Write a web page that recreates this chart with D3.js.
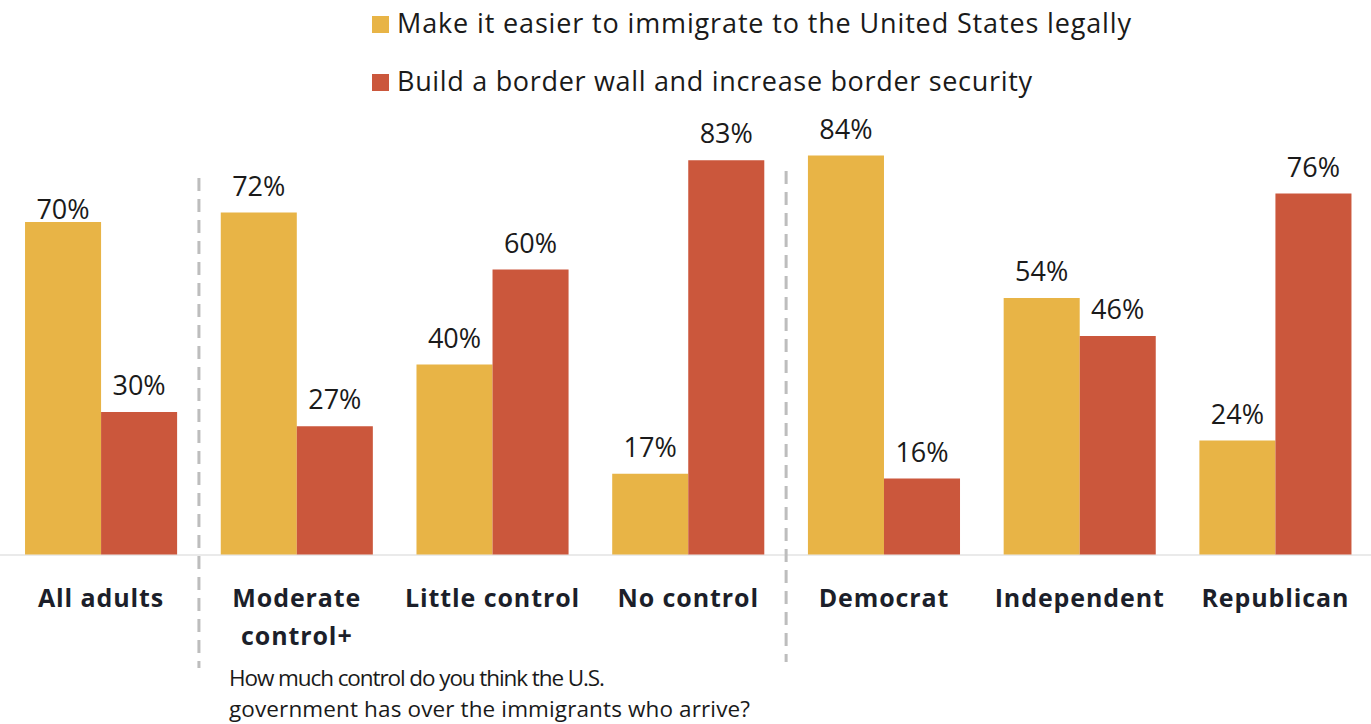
<!DOCTYPE html>
<html><head><meta charset="utf-8">
<script src="https://cdn.jsdelivr.net/npm/d3@7"></script>
<style>body{margin:0;background:#fff}svg{display:block}</style>
</head><body>
<script>
const groups = ["All adults","Moderate control+","Little control","No control","Democrat","Independent","Republican"];
const groupLines = [["All adults"],["Moderate","control+"],["Little control"],["No control"],["Democrat"],["Independent"],["Republican"]];
const seriesNames = ["Make it easier to immigrate to the United States legally","Build a border wall and increase border security"];
const easier = [70,72,40,17,84,54,24];
const wall = [30,27,60,83,16,46,76];
const colors = ["#E8B446","#CB573C"];
const subtitle = ["How much control do you think the U.S.","government has over the immigrants who arrive?"];

const W=1371,H=724;
const svg=d3.select("body").append("svg").attr("width",W).attr("height",H);
const font="'Open Sans', Lato, sans-serif";

const x=d3.scaleBand().domain(groups).range([3.5,1373]).paddingInner(0.223).paddingOuter(0.11);
const xs=d3.scaleBand().domain([0,1]).range([0,x.bandwidth()]);
const y=d3.scaleLinear().domain([0,100]).range([554.5,79.5]);

svg.append("line").attr("x1",0).attr("x2",W).attr("y1",y(0)+0.5).attr("y2",y(0)+0.5).attr("stroke","#e3e3e3").attr("stroke-width",1.5);

const data=groups.map((g,i)=>({g,i,vals:[easier[i],wall[i]]}));
const gg=svg.selectAll("g.grp").data(data).join("g").attr("transform",d=>`translate(${x(d.g)},0)`);
gg.selectAll("rect").data(d=>d.vals.map((v,k)=>({v,k}))).join("rect")
  .attr("x",d=>xs(d.k)).attr("width",xs.bandwidth()).attr("y",d=>y(d.v)).attr("height",d=>y(0)-y(d.v)).attr("fill",d=>colors[d.k]);
gg.selectAll("text.val").data(d=>d.vals.map((v,k)=>({v,k,i:d.i}))).join("text").attr("class","val")
  .attr("x",d=>xs(d.k)+xs.bandwidth()/2).attr("y",d=>y(d.v)-((d.i===0&&d.k===0)?3:17)).attr("text-anchor","middle")
  .attr("font-family",font).attr("font-size",27).attr("fill","#1a1a1a").text(d=>d.v+"%");
gg.each(function(d){
  const t=d3.select(this).append("text").attr("text-anchor","middle").attr("font-family",font).attr("font-weight","bold").attr("font-size",25).attr("letter-spacing",0.9).attr("fill","#1c1f2a");
  groupLines[d.i].forEach((l,j)=>t.append("tspan").attr("x",x.bandwidth()/2).attr("y",607+j*38).text(l));
});

[[groups[0],groups[1],178,668],[groups[3],groups[4],171,662]].forEach(([a,b,t,bt])=>{
  const xm=(x(a)+x.bandwidth()+x(b))/2;
  svg.append("line").attr("x1",xm).attr("x2",xm).attr("y1",t).attr("y2",bt).attr("stroke","#bdbdbd").attr("stroke-width",3).attr("stroke-dasharray","13,8");
});

const subLen=[376,521];
subtitle.forEach((s,j)=>svg.append("text").attr("x",229).attr("y",686+j*31).attr("font-family",font).attr("font-size",22.5)
  .attr("textLength",subLen[j]).attr("lengthAdjust","spacing").attr("fill","#1a1a1a").text(s));

const legLen=[734,635];
seriesNames.forEach((s,k)=>{
  const ly=33+k*58;
  svg.append("rect").attr("x",372).attr("y",ly-17).attr("width",17).attr("height",17).attr("fill",colors[k]);
  svg.append("text").attr("x",397).attr("y",ly).attr("font-family",font).attr("font-size",27)
    .attr("textLength",legLen[k]).attr("lengthAdjust","spacing").attr("fill","#1a1a1a").text(s);
});
</script>
</body></html>
